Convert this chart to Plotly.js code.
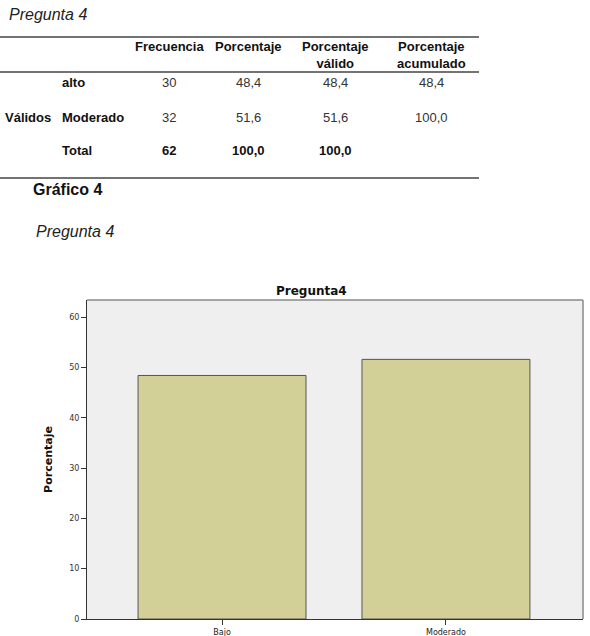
<!DOCTYPE html>
<html>
<head>
<meta charset="utf-8">
<script src="https://cdn.plot.ly/plotly-3.0.1.min.js"></script>
<style>
html,body{margin:0;padding:0;background:#fff;}
#chart{width:590px;height:636px;}
</style>
</head>
<body>
<div id="chart"></div>
<script>
// ---- Data ----
const categories = ["Bajo", "Moderado"];
const porcentaje = [48.4, 51.6];
const chartTitle = "Pregunta4";
const yTitle = "Porcentaje";
const yTicks = [0, 10, 20, 30, 40, 50, 60];

const tableRowLabels = ["alto", "Moderado", "Total"];
const tableGroupLabel = "Válidos";
const tableHeaders = ["Frecuencia", "Porcentaje", "Porcentaje<br>válido", "Porcentaje<br>acumulado"];
const frecuencia = ["30", "32", "62"];
const porcentajeCol = ["48,4", "51,6", "100,0"];
const porcentajeValido = ["48,4", "51,6", "100,0"];
const porcentajeAcum = ["48,4", "100,0", ""];

// ---- Layout helpers (pixel -> paper) ----
const W = 590, H = 636;
const mL = 87, mR = 7, mT = 300, mB = 17;
const pw = W - mL - mR, ph = H - mT - mB;
const px = x => (x - mL) / pw;
const py = y => (H - mB - y) / ph;

const ann = [];
const shapes = [];
const font = "Liberation Sans, Arial, sans-serif";

function txt(x, y, text, opts) {
  ann.push(Object.assign({
    xref: "paper", yref: "paper", x: px(x), y: py(y), text: text,
    showarrow: false, xanchor: "center", yanchor: "middle",
    font: {family: font, size: 13, color: "#111"}
  }, opts || {}));
}

// top texts
txt(7, 15, "<i>Pregunta 4</i>", {xanchor: "left", font: {family: font, size: 16, color: "#222"}});
txt(31, 189, "<b>Gráfico 4</b>", {xanchor: "left", font: {family: font, size: 16, color: "#111"}});
txt(34, 231, "<i>Pregunta 4</i>", {xanchor: "left", font: {family: font, size: 16, color: "#222"}});

// table lines
[37, 72, 178].forEach(y => shapes.push({
  type: "line", xref: "paper", yref: "paper",
  x0: px(0), x1: px(479), y0: py(y), y1: py(y),
  line: {color: "#444", width: 1.5}
}));

// header
const colX = [169, 248, 335, 431];
tableHeaders.forEach((h, i) => {
  const two = h.indexOf("<br>") >= 0;
  txt(colX[i], two ? 55 : 46, "<b>" + h + "</b>", {font: {family: font, size: 13, color: "#111"}});
});

// rows
const rowY = [82, 117, 151];
txt(3, 117, "<b>" + tableGroupLabel + "</b>", {xanchor: "left"});
tableRowLabels.forEach((r, i) => {
  txt(60, rowY[i], "<b>" + r + "</b>", {xanchor: "left"});
  const cols = [frecuencia[i], porcentajeCol[i], porcentajeValido[i], porcentajeAcum[i]];
  cols.forEach((v, j) => {
    if (!v) return;
    const t = (i === 2) ? "<b>" + v + "</b>" : v;
    txt(colX[j], rowY[i], t, {font: {family: font, size: 13, color: (i === 2 ? "#111" : "#333")}});
  });
});

// chart title
txt(311, 291, "<b>" + chartTitle + "</b>", {font: {family: "DejaVu Sans, sans-serif", size: 12, color: "#111"}});

// plot frame top/right (gray)
shapes.push({type: "line", xref: "paper", yref: "paper", x0: 0, x1: 1, y0: 1, y1: 1, line: {color: "#8a8a8a", width: 1.5}});
shapes.push({type: "line", xref: "paper", yref: "paper", x0: 1, x1: 1, y0: 0, y1: 1, line: {color: "#8a8a8a", width: 1.5}});

const trace = {
  type: "bar",
  x: categories,
  y: porcentaje,
  width: 0.75,
  marker: {color: "#d3d097", line: {color: "#555", width: 1}},
  hoverinfo: "none"
};

const layout = {
  width: W, height: H,
  margin: {l: mL, r: mR, t: mT, b: mB, pad: 0},
  paper_bgcolor: "#ffffff",
  plot_bgcolor: "#efefef",
  showlegend: false,
  xaxis: {
    type: "category",
    range: [-0.603, 1.612],
    showgrid: false, zeroline: false,
    showline: true, linecolor: "#333", linewidth: 1,
    ticks: "outside", ticklen: 5, tickcolor: "#333",
    tickfont: {family: "DejaVu Sans, sans-serif", size: 8, color: "#222"},
    fixedrange: true
  },
  yaxis: {
    range: [0, 63.4],
    tickvals: yTicks,
    showgrid: false, zeroline: false,
    showline: true, linecolor: "#333", linewidth: 1,
    ticks: "outside", ticklen: 5, tickcolor: "#333",
    tickfont: {family: "DejaVu Sans, sans-serif", size: 8, color: "#333"},
    title: {text: "<b>" + yTitle + "</b>", font: {family: "DejaVu Sans, sans-serif", size: 11, color: "#111"}, standoff: 14},
    fixedrange: true
  },
  annotations: ann,
  shapes: shapes
};

Plotly.newPlot("chart", [trace], layout, {displayModeBar: false, staticPlot: true});
</script>
</body>
</html>
